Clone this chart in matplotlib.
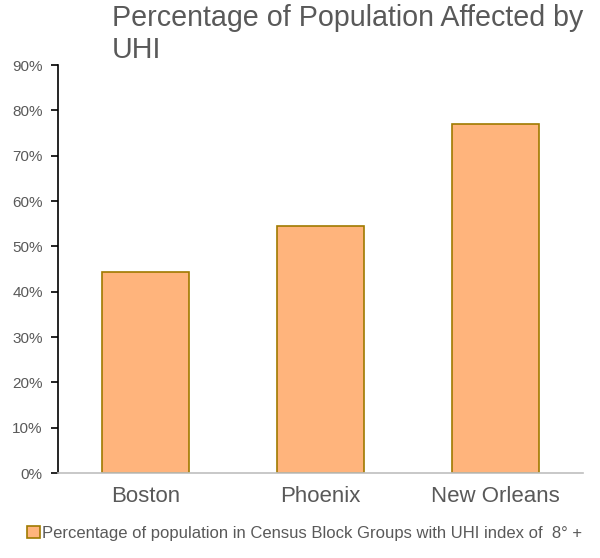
import matplotlib.pyplot as plt
from matplotlib.ticker import PercentFormatter

cities = ["Boston", "Phoenix", "New Orleans"]
pct_affected = [44.3, 54.5, 77.0]
y_ticks = [0, 10, 20, 30, 40, 50, 60, 70, 80, 90]

plt.rcParams['font.family'] = ['Liberation Sans', 'DejaVu Sans']
text_col = '#595959'

fig = plt.figure(figsize=(6, 5.58), dpi=100)
ax = fig.add_axes([0.0967, 0.1523, 0.875, 0.7312])

ax.bar(cities, pct_affected, width=0.5, color='#FFB47C', edgecolor='#A07A00',
       linewidth=1.2, label='Percentage of population in Census Block Groups with UHI index of  8° +')

ax.set_xlim(-0.5, 2.5)
ax.set_ylim(0, 90)
ax.set_yticks(y_ticks)
ax.yaxis.set_major_formatter(PercentFormatter(decimals=0))

for s in ['top', 'right']:
    ax.spines[s].set_visible(False)
ax.spines['left'].set_color('black')
ax.spines['left'].set_linewidth(1.2)
ax.spines['bottom'].set_color('#bfbfbf')
ax.spines['bottom'].set_linewidth(1.2)

ax.tick_params(axis='y', direction='out', length=5, width=1.2, color='black',
               labelsize=11, labelcolor=text_col, pad=6)
ax.tick_params(axis='x', length=0, labelsize=16, labelcolor=text_col, pad=9)

fig.text(0.187, 0.993, "Percentage of Population Affected by\nUHI", ha='left', va='top',
         fontsize=20.6, color=text_col, linespacing=1.17)

fig.legend(loc='center left', bbox_to_anchor=(0.045, 0.044), frameon=False,
           fontsize=12, labelcolor=text_col, handlelength=0.75, handleheight=0.75,
           handletextpad=0.15, borderpad=0, borderaxespad=0)

fig.savefig('out.png', dpi=100)
